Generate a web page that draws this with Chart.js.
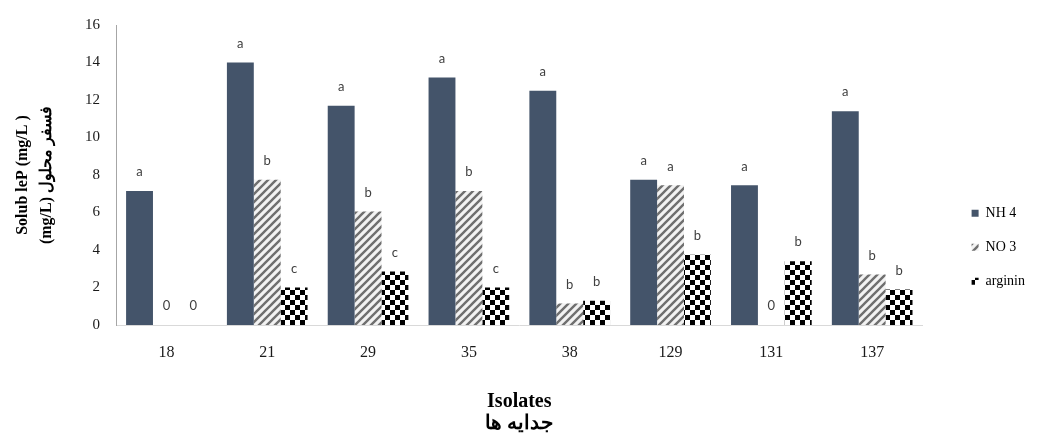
<!DOCTYPE html>
<html>
<head>
<meta charset="utf-8">
<script src="https://cdn.jsdelivr.net/npm/chart.js@4.4.1/dist/chart.umd.min.js"></script>
<style>
  html, body { margin: 0; padding: 0; background: #fff; }
  #wrap { width: 1043px; height: 435px; }
</style>
</head>
<body>
<div id="wrap"><canvas id="c" width="1043" height="435"></canvas></div>
<script>
// Isolates on the x axis
const isolates = ['18', '21', '29', '35', '38', '129', '131', '137'];

// Soluble P (mg/L) per nitrogen source
const nh4 = [7.15, 14.0, 11.7, 13.2, 12.5, 7.75, 7.45, 11.4];
const no3 = [0, 7.75, 6.05, 7.15, 1.15, 7.45, 0, 2.7];
const arginin = [0, 2.0, 2.85, 2.0, 1.3, 3.75, 3.4, 1.9];

// Significance letters shown above each bar ('0' where nothing was measured)
const nh4Letters = ['a', 'a', 'a', 'a', 'a', 'a', 'a', 'a'];
const no3Letters = ['0', 'b', 'b', 'b', 'b', 'a', '0', 'b'];
const argininLetters = ['0', 'c', 'c', 'c', 'b', 'b', 'b', 'b'];

// Y axis range
const yMin = 0;
const yMax = 16;
const yStep = 2;

const canvas = document.getElementById('c');
const ctx = canvas.getContext('2d');

// Diagonal hatch fill
function makeHatch() {
  const t = document.createElement('canvas');
  t.width = 8; t.height = 8;
  const g = t.getContext('2d');
  g.fillStyle = '#f2f2f2';
  g.fillRect(0, 0, 8, 8);
  g.strokeStyle = '#6f6f6f';
  g.lineWidth = 2.4;
  g.beginPath();
  g.moveTo(-2, 10); g.lineTo(10, -2);
  g.moveTo(-2, 2); g.lineTo(2, -2);
  g.moveTo(6, 10); g.lineTo(10, 6);
  g.stroke();
  return ctx.createPattern(t, 'repeat');
}

// Black/white checkerboard fill
function makeChecker() {
  const t = document.createElement('canvas');
  t.width = 10; t.height = 10;
  const g = t.getContext('2d');
  g.fillStyle = '#ffffff';
  g.fillRect(0, 0, 10, 10);
  g.fillStyle = '#000000';
  g.fillRect(0, 0, 5, 5);
  g.fillRect(5, 5, 5, 5);
  return ctx.createPattern(t, 'repeat');
}

// Draws the group letter centred above each bar
const groupLetters = {
  id: 'groupLetters',
  afterDatasetsDraw(chart) {
    const c = chart.ctx;
    c.save();
    c.font = '13px Lato, "Open Sans", sans-serif';
    c.fillStyle = '#404040';
    c.textAlign = 'center';
    c.textBaseline = 'middle';
    chart.data.datasets.forEach((ds, i) => {
      const meta = chart.getDatasetMeta(i);
      meta.data.forEach((bar, j) => {
        c.fillText(ds.letters[j], bar.x, bar.y - 19);
      });
    });
    c.restore();
  }
};

const serif = 'Liberation Serif';

new Chart(ctx, {
  type: 'bar',
  data: {
    labels: isolates,
    datasets: [
      { label: 'NH 4', data: nh4, backgroundColor: '#44546a', letters: nh4Letters },
      { label: 'NO 3', data: no3, backgroundColor: makeHatch(), letters: no3Letters },
      { label: 'arginin', data: arginin, backgroundColor: makeChecker(), letters: argininLetters }
    ]
  },
  options: {
    responsive: false,
    animation: false,
    datasets: {
      bar: { categoryPercentage: 0.8, barPercentage: 1.0, borderWidth: 0 }
    },
    layout: { padding: { top: 21, right: 8 } },
    plugins: {
      legend: {
        position: 'right',
        align: 'center',
        title: { display: true, text: '', padding: 12, font: { size: 12, lineHeight: 1.2 } },
        labels: {
          boxWidth: 7,
          boxHeight: 7,
          padding: 20,
          color: '#000',
          font: { family: serif, size: 14 }
        }
      },
      tooltip: { enabled: false }
    },
    scales: {
      x: {
        grid: { display: false, drawTicks: false },
        border: { display: true, color: '#d9d9d9', width: 1 },
        ticks: { padding: 18, color: '#1a1a1a', font: { family: serif, size: 16 } },
        title: {
          display: true,
          text: ['Isolates', 'جدایه ها'],
          color: '#000',
          font: { family: serif, size: 20, weight: 'bold', lineHeight: 1.1 },
          padding: { top: 0, bottom: 0 }
        },
        afterFit(scale) { scale.height = 110; }
      },
      y: {
        min: yMin,
        max: yMax,
        grid: { display: false, drawTicks: false },
        border: { display: true, color: '#a6a6a6', width: 1 },
        ticks: { stepSize: yStep, padding: 16, color: '#1a1a1a', font: { family: serif, size: 15 } },
        title: {
          display: true,
          text: ['Solub leP (mg/L )', '(mg/L) فسفر محلول'],
          color: '#000',
          font: { family: serif, size: 16, weight: 'bold', lineHeight: 1.5 },
          padding: { top: 11, bottom: 0 }
        },
        afterFit(scale) { scale.width = 116; }
      },
      gap: {
        position: 'right',
        display: true,
        grid: { display: false, drawTicks: false },
        ticks: { display: false },
        border: { display: false },
        afterFit(scale) { scale.width = 29; }
      }
    }
  },
  plugins: [groupLetters]
});
</script>
</body>
</html>
